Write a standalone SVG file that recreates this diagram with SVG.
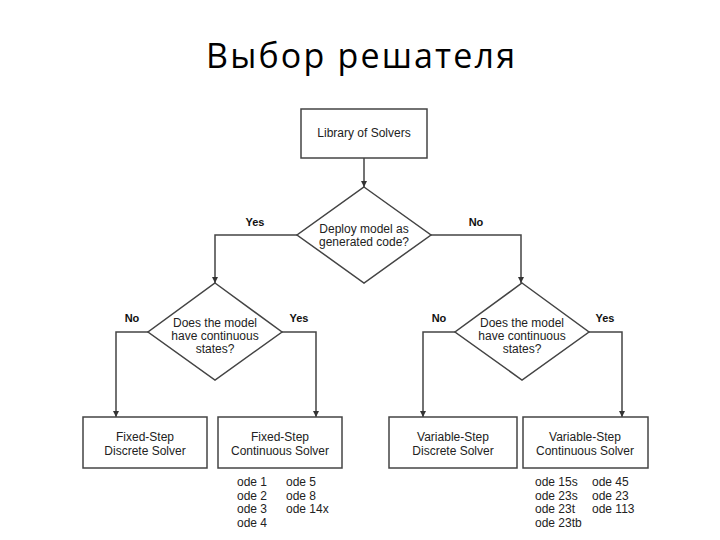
<svg xmlns="http://www.w3.org/2000/svg" width="720" height="540" viewBox="0 0 720 540">
<defs>
<style>
.title{font-family:"Open Sans","Noto Sans","DejaVu Sans",sans-serif;font-size:34px;fill:#000;}
.t{font-family:"Liberation Sans",Arial,sans-serif;font-size:12px;fill:#222;text-anchor:middle;}
.l{font-family:"Liberation Sans",Arial,sans-serif;font-size:12px;fill:#222;}
.yn{font-family:"Liberation Sans",Arial,sans-serif;font-size:11px;font-weight:bold;fill:#111;text-anchor:middle;}
.box{fill:#fff;stroke:#444;stroke-width:1.5;}
.c{fill:none;stroke:#444;stroke-width:1.5;}
</style>
<marker id="ah" viewBox="0 0 10 10" refX="10" refY="5" markerWidth="6" markerHeight="6" orient="auto" markerUnits="userSpaceOnUse">
<path d="M0,0 L10,5 L0,10 z" fill="#333"/>
</marker>
</defs>
<rect width="720" height="540" fill="#fff"/>
<text class="title" x="206" y="68" textLength="309" lengthAdjust="spacing">Выбор решателя</text>

<g id="connectors">
<line class="c" x1="364" y1="158" x2="364" y2="187" marker-end="url(#ah)"/>
<polyline class="c" points="297,235 215,235 215,283" marker-end="url(#ah)"/>
<polyline class="c" points="431,235 521,235 521,283" marker-end="url(#ah)"/>
<polyline class="c" points="148,332 116,332 116,417" marker-end="url(#ah)"/>
<polyline class="c" points="282,332 316,332 316,417" marker-end="url(#ah)"/>
<polyline class="c" points="455,332 423,332 423,417" marker-end="url(#ah)"/>
<polyline class="c" points="589,332 622,332 622,417" marker-end="url(#ah)"/>
<text class="yn" x="255" y="226">Yes</text>
<text class="yn" x="476" y="226">No</text>
<text class="yn" x="132" y="322">No</text>
<text class="yn" x="299" y="322">Yes</text>
<text class="yn" x="439" y="322">No</text>
<text class="yn" x="605" y="322">Yes</text>
</g>

<g id="library">
<rect class="box" x="301" y="109" width="126" height="49"/>
<text class="t" x="364" y="137">Library of Solvers</text>
</g>

<g id="deploy">
<polygon class="box" points="364,187 431,235 364,283 297,235"/>
<text class="t" x="364" y="233">Deploy model as</text>
<text class="t" x="364" y="246">generated code?</text>
</g>

<g id="cont-fixed">
<polygon class="box" points="215,283 282,332 215,380 148,332"/>
<text class="t" x="215" y="327">Does the model</text>
<text class="t" x="215" y="340">have continuous</text>
<text class="t" x="215" y="353">states?</text>
</g>

<g id="cont-variable">
<polygon class="box" points="522,283 589,332 522,380 455,332"/>
<text class="t" x="522" y="327">Does the model</text>
<text class="t" x="522" y="340">have continuous</text>
<text class="t" x="522" y="353">states?</text>
</g>

<g id="fixed-discrete">
<rect class="box" x="83" y="417" width="124" height="51"/>
<text class="t" x="145" y="441">Fixed-Step</text>
<text class="t" x="145" y="455">Discrete Solver</text>
</g>

<g id="fixed-continuous">
<rect class="box" x="218" y="417" width="124" height="51"/>
<text class="t" x="280" y="441">Fixed-Step</text>
<text class="t" x="280" y="455">Continuous Solver</text>
<text class="l" x="237" y="486">ode 1</text>
<text class="l" x="237" y="499.5">ode 2</text>
<text class="l" x="237" y="513">ode 3</text>
<text class="l" x="237" y="526.5">ode 4</text>
<text class="l" x="286" y="486">ode 5</text>
<text class="l" x="286" y="499.5">ode 8</text>
<text class="l" x="286" y="513">ode 14x</text>
</g>

<g id="variable-discrete">
<rect class="box" x="389" y="417" width="128" height="51"/>
<text class="t" x="453" y="441">Variable-Step</text>
<text class="t" x="453" y="455">Discrete Solver</text>
</g>

<g id="variable-continuous">
<rect class="box" x="523" y="417" width="125" height="51"/>
<text class="t" x="585" y="441">Variable-Step</text>
<text class="t" x="585" y="455">Continuous Solver</text>
<text class="l" x="535" y="486">ode 15s</text>
<text class="l" x="535" y="499.5">ode 23s</text>
<text class="l" x="535" y="513">ode 23t</text>
<text class="l" x="535" y="526.5">ode 23tb</text>
<text class="l" x="592" y="486">ode 45</text>
<text class="l" x="592" y="499.5">ode 23</text>
<text class="l" x="592" y="513">ode 113</text>
</g>
</svg>
